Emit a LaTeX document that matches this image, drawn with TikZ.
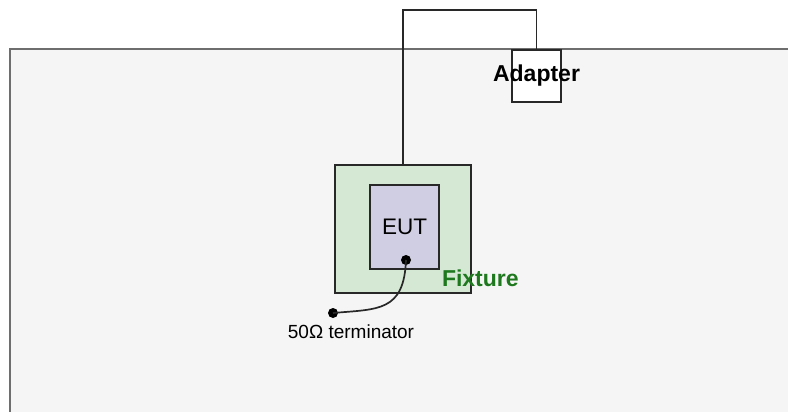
\documentclass[tikz,border=0pt]{standalone}
\usepackage{fontspec}
\setmainfont{Liberation Sans}
\usetikzlibrary{positioning,calc}
\definecolor{cpanel}{RGB}{245,245,245}
\definecolor{cpanelline}{RGB}{110,110,110}
\definecolor{cfixture}{RGB}{213,232,212}
\definecolor{ceut}{RGB}{208,206,226}
\definecolor{cline}{RGB}{40,40,40}
\definecolor{cfixtxt}{RGB}{30,120,30}

\begin{document}
\begin{tikzpicture}[
  x=1pt, y=-1pt,
  boxbase/.style={draw=cline, line width=1.6pt, inner sep=0pt},
  fixbox/.style={boxbase, fill=cfixture, minimum width=136pt, minimum height=128pt},
  eutbox/.style={boxbase, fill=ceut, minimum width=69pt, minimum height=84pt, font=\fontsize{22.5}{26}\selectfont},
  adapterbox/.style={boxbase, fill=white, minimum width=49pt, minimum height=52pt},
  lbl/.style={font=\fontsize{23}{27}\selectfont\bfseries, inner sep=0pt},
  termlbl/.style={font=\fontsize{19}{23}\selectfont, inner sep=0pt},
  pin/.style={circle, fill=black, inner sep=0pt, minimum size=10pt},
  wire/.style={draw=cline, line width=1.7pt},
]
\useasboundingbox[fill=white] (0,0) rectangle (788,412);
\clip (0,0) rectangle (788,412);
% test area
\draw[fill=cpanel, draw=cpanelline, line width=1.8pt] (10,49) rectangle (800,412.5);
\node[fixbox] (fixture) at (403,229) {};
\node[eutbox] (eut) at (404.5,227) {EUT};
\node[adapterbox, label={[lbl]center:Adapter}] (adapter) at (536.5,76) {};
\node[lbl, text=cfixtxt, anchor=base west] (fixlbl) at ($(fixture.south east)+(-30,-7)$) {Fixture};
% cable to adapter
\draw[wire] (fixture.north) -- ++(0,-154) -| (adapter.north);
% terminator
\node[pin] (eutdot) at (406,260) {};
\node[pin] (termdot) at (333,313) {};
\draw[wire] (eutdot.center) .. controls +(-2,52) and +(45,-4) .. (termdot.center);
\node[termlbl] (term) at (351,332) {50Ω terminator};
\end{tikzpicture}
\end{document}
